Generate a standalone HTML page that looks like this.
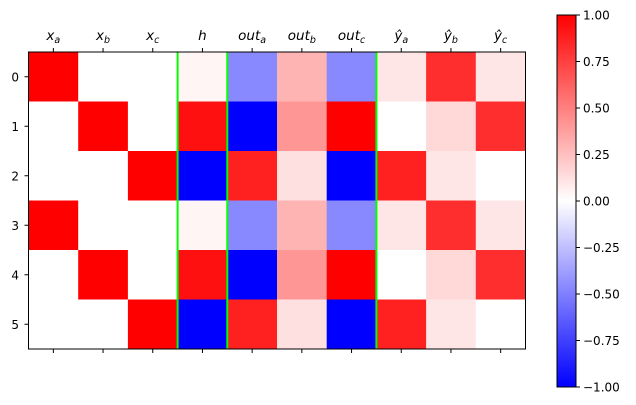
<!DOCTYPE html>
<html><head><style>body{margin:0;background:#fff}svg{display:block}text{font-family:"DejaVu Sans","Liberation Sans",sans-serif;font-size:12px;fill:#000}</style></head>
<body>
<svg width="636" height="405" viewBox="0 0 636 405">
<defs><linearGradient id="g" x1="0" y1="1" x2="0" y2="0"><stop offset="0" stop-color="#0000ff"/><stop offset="0.5" stop-color="#ffffff"/><stop offset="1" stop-color="#ff0000"/></linearGradient></defs>
<g id="cells"></g>
<g stroke="#00ff00" stroke-width="2"><line x1="177.6" y1="52" x2="177.6" y2="349"/><line x1="227.3" y1="52" x2="227.3" y2="349"/><line x1="376.4" y1="52" x2="376.4" y2="349"/></g>
<rect x="28.5" y="52" width="497" height="297" fill="none" stroke="#000" stroke-width="1"/>
<g id="ticks" stroke="#000" stroke-width="1"></g>
<g id="labels"></g>
<rect x="557" y="15" width="19" height="372" fill="url(#g)" stroke="#000" stroke-width="1"/>
<g id="cb"></g>
</svg>
<script>
var C=[["#ff0000","#fff","#fff","#fff5f5","#8888ff","#ffb4b4","#8888ff","#ffe6e6","#ff2e2e","#ffe6e6"],
["#fff","#ff0000","#fff","#ff1010","#0000ff","#ff9696","#ff0000","#fff","#ffd8d8","#ff2e2e"],
["#fff","#fff","#ff0000","#0000ff","#ff2020","#ffe0e0","#0000ff","#ff2020","#ffe6e6","#fff"]];
var ns="http://www.w3.org/2000/svg",x0=28.5,y0=52,cw=49.7,rh=49.5;
function el(p,t,a,txt){var e=document.createElementNS(ns,t);for(var k in a)e.setAttribute(k,a[k]);if(txt!=null)e.innerHTML=txt;document.getElementById(p).appendChild(e);}
for(var r=0;r<6;r++)for(var c=0;c<10;c++)el("cells","rect",{x:x0+c*cw,y:y0+r*rh,width:cw+0.5,height:rh+0.5,fill:C[r%3][c]});
function s(b){return "<tspan dy='3' style='font-size:9.5px'>"+b+"</tspan>";}
var L=["x"+s("a"),"x"+s("b"),"x"+s("c"),"h","out"+s("a"),"out"+s("b"),"out"+s("c"),"ŷ"+s("a"),"ŷ"+s("b"),"ŷ"+s("c")];
for(var c=0;c<10;c++){var cx=x0+(c+0.5)*cw;el("ticks","line",{x1:cx,y1:52,x2:cx,y2:48});el("ticks","line",{x1:cx,y1:349,x2:cx,y2:353});el("labels","text",{x:cx,y:40,"text-anchor":"middle",style:"font-style:italic;font-size:13.5px"},L[c]);}
for(var r=0;r<6;r++){var cy=y0+(r+0.5)*rh;el("ticks","line",{x1:28.5,y1:cy,x2:24.5,y2:cy});el("labels","text",{x:19,y:cy+4.5,"text-anchor":"end"},r);}
var v=["1.00","0.75","0.50","0.25","0.00","\u22120.25","\u22120.50","\u22120.75","\u22121.00"];
for(var i=0;i<9;i++){var y=15+i*46.5;el("cb","line",{x1:576,y1:y,x2:580,y2:y,stroke:"#000"});el("cb","text",{x:583,y:y+4.5},v[i]);}
</script>
</body></html>
